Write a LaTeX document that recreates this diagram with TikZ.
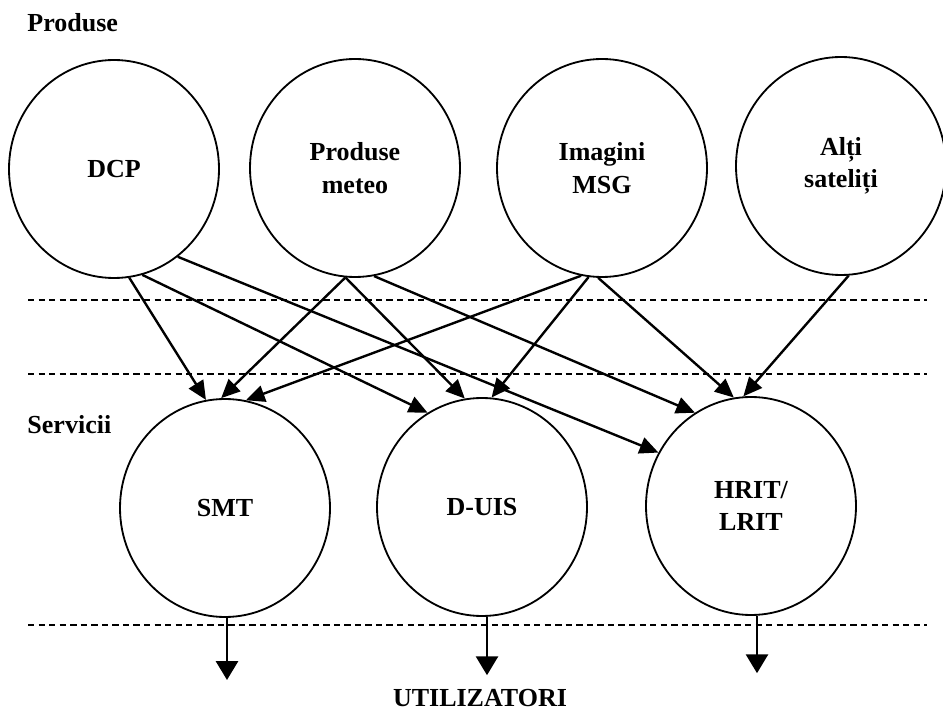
\documentclass[tikz,border=0pt]{standalone}
\usepackage{fontspec}
\setmainfont{Liberation Serif}
\usetikzlibrary{arrows.meta,shapes.geometric}

\begin{document}
\begin{tikzpicture}[
  font=\bfseries\fontsize{18.5}{23}\selectfont,
  circ/.style={draw,ellipse,align=center,minimum width=5.25cm,minimum height=5.45cm,inner sep=0pt,line width=1.3pt},
  arr/.style={-{Triangle[length=0.47cm,width=0.42cm]},line width=1.7pt},
  outarr/.style={-{Triangle[length=0.47cm,width=0.55cm]},line width=1.7pt},
  sep/.style={dash pattern=on 4.5pt off 3pt,line width=0.9pt},
  lbl/.style={anchor=base west,inner sep=0pt}
]
  \useasboundingbox (0,0) rectangle (23.575,-17.875);

  % produse
  \node[lbl] (prod) at (0.68,-0.8) {Produse};
  \node[circ] (dcp) at (2.85,-4.225) {DCP};
  \node[circ] (met) at (8.875,-4.2) {Produse\\meteo};
  \node[circ] (msg) at (15.05,-4.2) {Imagini\\MSG};
  \node[circ] (alt) at (21.025,-4.15) {Alți\\sateliți};

  % separatoare
  \draw[sep] (0.7,-7.5) -- (23.175,-7.5);
  \draw[sep] (0.7,-9.35) -- (23.175,-9.35);
  \draw[sep] (0.7,-15.625) -- (23.175,-15.625);

  % servicii
  \node[lbl] (serv) at (0.68,-10.83) {Servicii};
  \node[circ] (smt) at (5.625,-12.7) {SMT};
  \node[circ] (duis) at (12.05,-12.675) {D-UIS};
  \node[circ] (hrit) at (18.775,-12.65) {HRIT/\\LRIT};

  \draw[arr] (dcp.-82.7) -- (smt.100.3);
  \draw[arr] (dcp.-75.2) -- (duis.120.9);
  \draw[arr] (dcp.-54.4) -- (hrit.150.4);

  \draw[arr] (met.-95) -- (smt.92.6);
  \draw[arr] (met.-95) -- (duis.99);
  \draw[arr] (met.-80.5) -- (hrit.121.6);

  \draw[arr] (msg.-101.7) -- (smt.79.5);
  \draw[arr] (msg.-97.8) -- (duis.85.8);
  \draw[arr] (msg.-92) -- (hrit.99.7);

  \draw[arr] (alt.-86.9) -- (hrit.94.5);

  % utilizatori
  \coordinate (smtu) at (5.675,-17.0);
  \coordinate (duisu) at (12.175,-16.88);
  \coordinate (hritu) at (18.925,-16.83);
  \draw[outarr] (smt.south -| smtu) -- (smtu);
  \draw[outarr] (duis.south -| duisu) -- (duisu);
  \draw[outarr] (hrit.south -| hritu) -- (hritu);

  \node[anchor=base,inner sep=0pt] (util) at (12.0,-17.65) {UTILIZATORI};
\end{tikzpicture}
\end{document}
